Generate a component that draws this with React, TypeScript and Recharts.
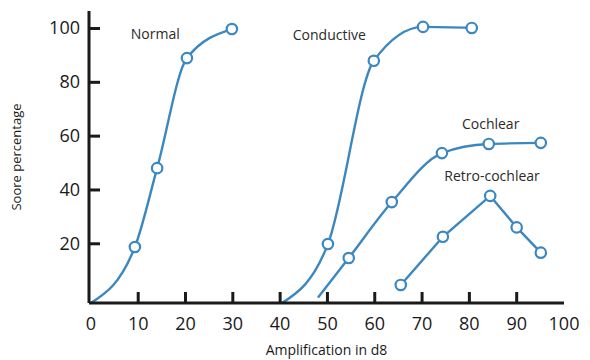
import { LineChart, Line, XAxis, YAxis, ReferenceDot } from 'recharts';

const BLUE = '#3c87c0';
const INK = '#1a1a1a';

// values (first point of three curves has no marker)
const normalX = [0, 9.3, 14, 20.3, 29.8];
const normalY = [-2, 18.8, 48.1, 89, 99.8];
const conductiveX = [40.4, 50.1, 59.8, 70.2, 80.5];
const conductiveY = [-2, 19.9, 88, 100.6, 100.2];
const cochlearX = [48, 54.5, 63.6, 74.2, 84.1, 95.1];
const cochlearY = [0, 14.7, 35.5, 53.7, 57.1, 57.5];
const retroX = [65.5, 74.4, 84.4, 90, 95.1];
const retroY = [4.7, 22.6, 37.8, 26.1, 16.7];

const xTicks = [0, 10, 20, 30, 40, 50, 60, 70, 80, 90, 100];
const yTicks = [20, 40, 60, 80, 100];

const curveLabels = [
  { name: 'Normal', x: 13.6, y: 97.8 },
  { name: 'Conductive', x: 50.4, y: 97.6 },
  { name: 'Cochlear', x: 84.5, y: 64.5 },
  { name: 'Retro-cochlear', x: 84.8, y: 45.2 },
];

const zip = (xs: number[], ys: number[]) => xs.map((x, i) => ({ x, y: ys[i] }));

const FONT = '"Open Sans", sans-serif';

function makeDot(skipFirst: boolean) {
  return (p: any) => {
    if (skipFirst && p.index === 0) return <g key={`d${p.index}`} />;
    return (
      <circle key={`d${p.index}`} cx={p.cx} cy={p.cy} r={5.2} fill="#fff" stroke={BLUE} strokeWidth={2.2} />
    );
  };
}

const X_MARGIN = 14;
function XTick({ x, y, payload }: any) {
  const axisY = y - X_MARGIN;
  const v = payload.value;
  return (
    <g>
      {v > 0 && v < 100 && <line x1={x} x2={x} y1={axisY} y2={axisY - 11} stroke={INK} strokeWidth={3} />}
      <text x={x} y={axisY + 27} textAnchor="middle" fontSize={18} fill={INK} fontFamily={FONT}>
        {v}
      </text>
    </g>
  );
}

const Y_MARGIN = 9;
function YTick({ x, y, payload }: any) {
  const axisX = x + Y_MARGIN;
  return (
    <g>
      <line x1={axisX} x2={axisX + 11} y1={y} y2={y} stroke={INK} strokeWidth={3} />
      <text x={x} y={y + 6} textAnchor="end" fontSize={18} fill={INK} fontFamily={FONT}>
        {payload.value}
      </text>
    </g>
  );
}

export default function App() {
  return (
    <div style={{ position: 'absolute', left: 0, top: 0, background: '#fff' }}>
      <LineChart width={590} height={360} margin={{ top: 11, right: 26, bottom: 0, left: 0 }}>
        <XAxis
          type="number"
          dataKey="x"
          domain={[-0.4, 100]}
          ticks={xTicks}
          interval={0}
          allowDataOverflow
          height={57}
          tickSize={0}
          tickMargin={X_MARGIN}
          tickLine={false}
          axisLine={{ stroke: INK, strokeWidth: 3 }}
          tick={<XTick />}
          label={{ value: 'Amplification in d8', position: 'insideBottom', offset: 5, fill: INK, fontSize: 14, fontFamily: FONT }}
        />
        <YAxis
          type="number"
          domain={[-2, 106.5]}
          ticks={yTicks}
          interval={0}
          allowDataOverflow
          width={89}
          tickSize={0}
          tickMargin={Y_MARGIN}
          tickLine={false}
          axisLine={{ stroke: INK, strokeWidth: 3 }}
          tick={<YTick />}
          label={{ value: 'Soore percentage', angle: -90, position: 'insideLeft', offset: 16, fill: INK, fontSize: 13, fontFamily: FONT, style: { textAnchor: 'middle' } }}
        />
        <Line data={zip(normalX, normalY)} dataKey="y" type="monotone" stroke={BLUE} strokeWidth={2.4} dot={makeDot(true)} isAnimationActive={false} />
        <Line data={zip(conductiveX, conductiveY)} dataKey="y" type="monotone" stroke={BLUE} strokeWidth={2.4} dot={makeDot(true)} isAnimationActive={false} />
        <Line data={zip(cochlearX, cochlearY)} dataKey="y" type="monotone" stroke={BLUE} strokeWidth={2.4} dot={makeDot(true)} isAnimationActive={false} />
        <Line data={zip(retroX, retroY)} dataKey="y" type="linear" stroke={BLUE} strokeWidth={2.4} dot={makeDot(false)} isAnimationActive={false} />
        {curveLabels.map((l) => (
          <ReferenceDot
            key={l.name}
            x={l.x}
            y={l.y}
            r={0}
            fill="none"
            stroke="none"
            label={{ value: l.name, position: 'center', fill: '#2a2a2a', fontSize: 14, fontFamily: FONT }}
          />
        ))}
      </LineChart>
    </div>
  );
}
